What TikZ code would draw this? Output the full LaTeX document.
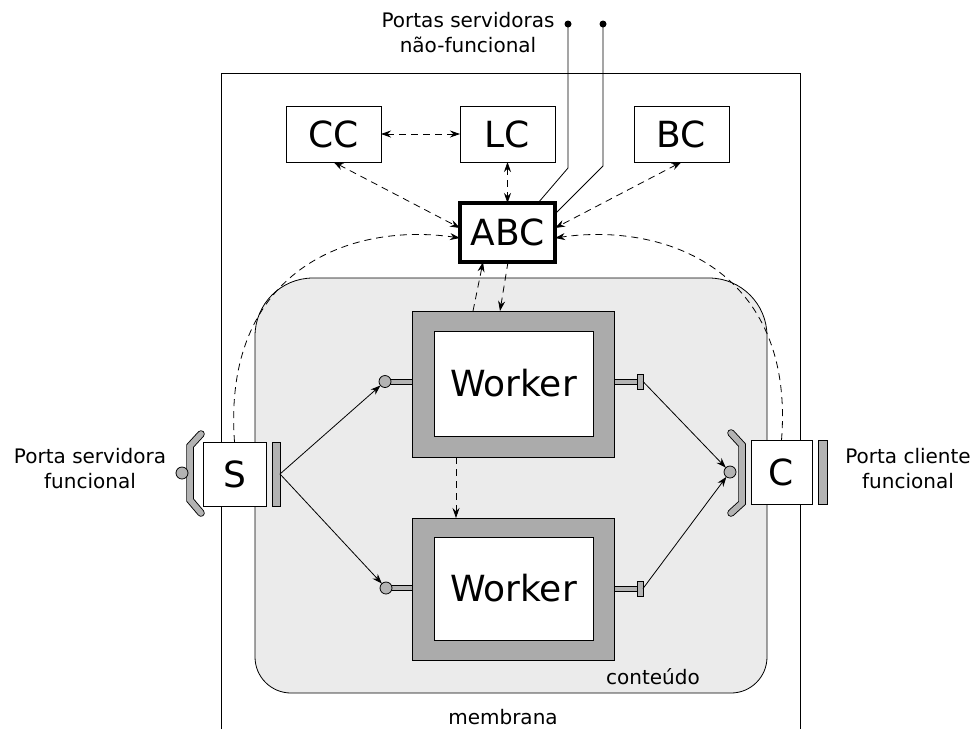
\documentclass[tikz,border=0pt]{standalone}
\usepackage{fontspec}
\setmainfont{DejaVu Sans}
\usetikzlibrary{arrows.meta,calc}
\definecolor{contentgray}{HTML}{EBEBEB}
\definecolor{framegray}{HTML}{ABABAB}
\definecolor{portgray}{HTML}{B3B3B3}
\begin{document}
\begin{tikzpicture}[x=1pt,y=-1pt,line width=0.8pt,
  >={Stealth[length=10pt,width=7pt]},
  box/.style={draw,fill=white,inner sep=0pt,outer sep=0pt,font=\fontsize{36}{40}\selectfont},
  frame/.style={draw,fill=framegray,inner sep=0pt,outer sep=0pt},
  pbar/.style={draw,fill=portgray,inner sep=0pt,outer sep=0pt},
  pcirc/.style={draw,fill=portgray,circle,inner sep=0pt,outer sep=0pt,minimum size=12pt},
  dsh/.style={dash pattern=on 7pt off 5pt},
  lbl/.style={font=\fontsize{20}{25}\selectfont,align=center,inner sep=0pt},
  dot/.style={circle,fill=black,inner sep=0pt,minimum size=7pt}]
\useasboundingbox (0,0) rectangle (976,729);
% content and membrane
\path[fill=contentgray,draw=black] (255,480) [rounded corners=58pt] -- (255,278) -- (767,278) -- (767,480) [rounded corners=36pt] -- (767,693) -- (255,693) [sharp corners] -- cycle;
\draw (221,729) -- (221,73) -- (800,73) -- (800,729);
\node[lbl] (memb) at (503,717) {membrana};
\node[lbl] (cont) at (653,677) {conteúdo};
% controllers
\node[box,minimum width=95pt,minimum height=56pt] (CC) at (333.5,134) {CC};
\node[box,minimum width=95pt,minimum height=56pt] (LC) at (507.5,134) {LC};
\node[box,minimum width=95pt,minimum height=56pt] (BC) at (681.5,134) {BC};
\node[box,line width=3.5pt,minimum width=95pt,minimum height=59pt] (ABC) at (507.5,232.5) {ABC};
% workers
\node[frame,minimum width=202pt,minimum height=146pt] (W1) at (513,384) {};
\node[box,minimum width=159pt,minimum height=105pt] (W1in) at (513.5,383.5) {Worker};
\node[frame,minimum width=202pt,minimum height=142pt] (W2) at (513,589) {};
\node[box,minimum width=159pt,minimum height=103pt] (W2in) at (513.5,588.5) {Worker};
% worker ports
\draw[fill=portgray] (385,379) rectangle (W1.west |- 0,384);
\node[pcirc] (W1L) at (385,381.5) {};
\draw[fill=portgray] (W1.east |- 0,379) rectangle (638,384);
\node[pbar,minimum width=6pt,minimum height=15pt] (W1R) at (640,381.5) {};
\draw[fill=portgray] (386,585.5) rectangle (W2.west |- 0,590.5);
\node[pcirc] (W2L) at (386,588) {};
\draw[fill=portgray] (W2.east |- 0,586) rectangle (638,591);
\node[pbar,minimum width=6pt,minimum height=15pt] (W2R) at (640,588.5) {};
% S and C
\node[box,minimum width=63pt,minimum height=64pt] (S) at (234.5,474) {S};
\node[pbar,minimum width=8pt,minimum height=64pt] (Sbar) at (276,474) {};
\draw[line width=7.5pt,line cap=round,line join=miter] (201,434) -- (190,446) -- (190,500) -- (201,513);
\draw[line width=5.7pt,portgray,line cap=round,line join=miter] (201,434) -- (190,446) -- (190,500) -- (201,513);
\node[pcirc] (Scirc) at (182,473) {};
\node[box,minimum width=61pt,minimum height=64pt] (C) at (781.5,472) {C};
\node[pbar,minimum width=9pt,minimum height=64pt] (Cbar) at (822.5,472) {};
\draw[line width=7.5pt,line cap=round,line join=miter] (731,433) -- (742,445) -- (742,503) -- (731,513);
\draw[line width=5.7pt,portgray,line cap=round,line join=miter] (731,433) -- (742,445) -- (742,503) -- (731,513);
\node[pcirc] (Ccirc) at (730,472) {};
% labels
\node[lbl] (pnf) at (468,33) {Portas servidoras\\não-funcional};
\node[lbl] (psf) at (90,469) {Porta servidora\\funcional};
\node[lbl] (pcf) at (908,469) {Porta cliente\\funcional};
% non-functional ports
\node[dot] (d1) at (568,24) {};
\node[dot] (d2) at (603,24) {};
\draw (d1.center) -- (568,168) -- ([xshift=-17pt]ABC.north east);
\draw (d2.center) -- (603,166) -- ([yshift=-11pt]ABC.north east);
% dashed control arrows
\draw[dsh,<->] (CC.east) -- (LC.west);
\draw[dsh,<->] (LC.south) -- (ABC.north);
\draw[dsh,<->] (CC.south) -- ([yshift=4.5pt]ABC.west);
\draw[dsh,<->] (BC.south) -- ([yshift=4.5pt]ABC.east);
\draw[dsh,->] (S.north) .. controls (222,270) and (350,222) .. ([yshift=-5.5pt]ABC.west);
\draw[dsh,->] (C.north) .. controls (795,270) and (665,222) .. ([yshift=-5.5pt]ABC.east);
\draw[dsh,->] ([xshift=-40pt]W1.north) -- ([xshift=-24.5pt]ABC.south);
\draw[dsh,->] ([xshift=0.5pt]ABC.south) -- ([xshift=-13pt]W1.north);
\draw[dsh,->] ([xshift=-57pt]W1.south) -- ([xshift=-57pt]W2.north);
% functional bindings
\draw[->] (Sbar.east) -- (W1L);
\draw[->] (Sbar.east) -- (W2L);
\draw[->] (W1R.east) -- (Ccirc);
\draw[->] (W2R.east) -- (Ccirc);
\end{tikzpicture}
\end{document}
